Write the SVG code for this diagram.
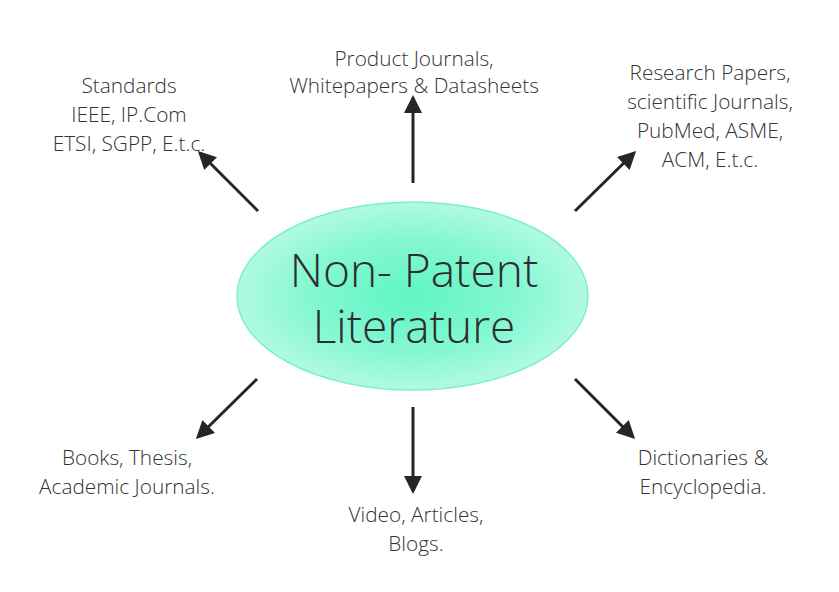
<svg xmlns="http://www.w3.org/2000/svg" width="839" height="592" viewBox="0 0 839 592">
<defs>
<radialGradient id="g" cx="50%" cy="50%" r="50%">
<stop offset="0" stop-color="#5ff5c5"/>
<stop offset="0.6" stop-color="#85f7d3"/>
<stop offset="1" stop-color="#b0fae3"/>
</radialGradient>
<marker id="ah" markerWidth="6" markerHeight="6" refX="5" refY="3" orient="auto" markerUnits="strokeWidth">
<path d="M0,0 L6,3 L0,6 z" fill="#262626"/>
</marker>
<style>
.t{font-family:"Open Sans","Segoe UI","Liberation Sans",sans-serif;font-weight:300;font-size:20.8px;fill:#333333;text-anchor:middle}
.big{font-size:46px;fill:#2e2e2e}
.c{stroke:#262626;stroke-width:3;fill:none;marker-end:url(#ah)}
</style>
</defs>
<rect width="839" height="592" fill="#ffffff"/>
<g id="center">
<ellipse cx="412.5" cy="296" rx="175.5" ry="94" fill="url(#g)" stroke="#7eefcb" stroke-width="1.5"/>
<text class="t big" x="414" y="287">Non- Patent</text>
<text class="t big" x="414" y="343">Literature</text>
</g>
<g id="connectors">
<line class="c" x1="258" y1="211" x2="200" y2="153"/>
<line class="c" x1="413" y1="183" x2="413" y2="98"/>
<line class="c" x1="575" y1="211" x2="634" y2="153"/>
<line class="c" x1="257" y1="379" x2="198" y2="437"/>
<line class="c" x1="413" y1="407" x2="413" y2="491"/>
<line class="c" x1="575" y1="379" x2="633" y2="437"/>
</g>
<g id="standards">
<text class="t" x="129" y="93">Standards</text>
<text class="t" x="129" y="122">IEEE, IP.Com</text>
<text class="t" x="129" y="151">ETSI, SGPP, E.t.c.</text>
</g>
<g id="product">
<text class="t" x="414" y="66">Product Journals,</text>
<text class="t" x="414" y="93">Whitepapers &amp; Datasheets</text>
</g>
<g id="research">
<text class="t" x="710" y="80">Research Papers,</text>
<text class="t" x="710" y="109">scientific Journals,</text>
<text class="t" x="710" y="138">PubMed, ASME,</text>
<text class="t" x="710" y="167">ACM, E.t.c.</text>
</g>
<g id="books">
<text class="t" x="127" y="465">Books, Thesis,</text>
<text class="t" x="127" y="494">Academic Journals.</text>
</g>
<g id="video">
<text class="t" x="416" y="522">Video, Articles,</text>
<text class="t" x="416" y="551">Blogs.</text>
</g>
<g id="dictionaries">
<text class="t" x="703" y="465">Dictionaries &amp;</text>
<text class="t" x="703" y="494">Encyclopedia.</text>
</g>
</svg>
